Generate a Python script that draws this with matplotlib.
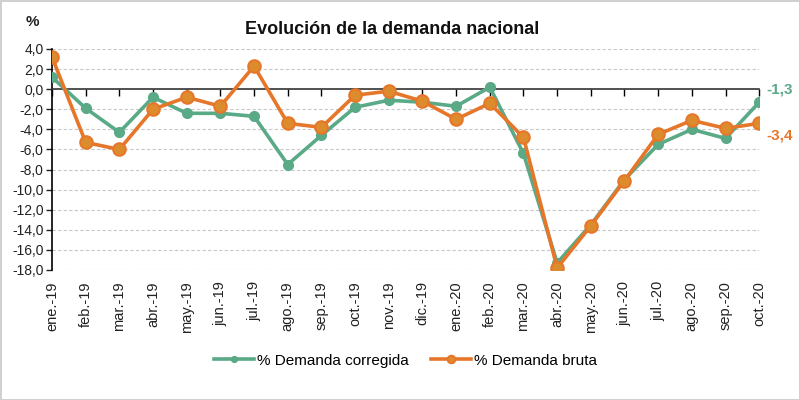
import numpy as np
import matplotlib
matplotlib.use('Agg')
import matplotlib.pyplot as plt
from matplotlib.ticker import FuncFormatter

plt.rcParams['font.family'] = ['Liberation Sans', 'DejaVu Sans']

months = ['ene.-19', 'feb.-19', 'mar.-19', 'abr.-19', 'may.-19', 'jun.-19',
          'jul.-19', 'ago.-19', 'sep.-19', 'oct.-19', 'nov.-19', 'dic.-19',
          'ene.-20', 'feb.-20', 'mar.-20', 'abr.-20', 'may.-20', 'jun.-20',
          'jul.-20', 'ago.-20', 'sep.-20', 'oct.-20']
corregida = [1.2, -1.9, -4.3, -0.8, -2.4, -2.4, -2.7, -7.5, -4.6, -1.8, -1.1,
             -1.3, -1.7, 0.2, -6.4, -17.3, -13.5, -9.0, -5.5, -4.0, -4.9, -1.3]
bruta = [3.2, -5.3, -6.0, -2.0, -0.8, -1.7, 2.3, -3.4, -3.8, -0.6, -0.2,
         -1.2, -3.0, -1.4, -4.8, -17.8, -13.6, -9.1, -4.5, -3.1, -3.9, -3.4]
yticks = np.arange(-18, 5, 2)

green = '#5aa987'
orange = '#e6772a'
x = np.arange(len(months))

fig = plt.figure(figsize=(8, 4), dpi=100)
fig.patch.set_edgecolor('#d0d0d0')
fig.patch.set_linewidth(2)
ax = fig.add_axes([0.065, 0.325, 0.884, 0.5525])

for yv in yticks:
    if yv != 0:
        ax.axhline(yv, color='#c8c8c8', lw=0.8, ls=(0, (3, 2)), zorder=0)

ax.plot(x, corregida, color=green, lw=2.6, marker='o', ms=7,
        mfc=green, mec=green, label='% Demanda corregida', zorder=3)
ax.plot(x, bruta, color=orange, lw=2.6, marker='o', ms=9,
        mfc='#dc8c2c', mec=orange, mew=1.5, label='% Demanda bruta', zorder=4)

ax.set_xlim(0, len(months) - 1)
ax.set_ylim(-18, 4)
ax.set_yticks(yticks)
ax.yaxis.set_major_formatter(FuncFormatter(lambda v, p: f'{v:.1f}'.replace('.', ',')))
ax.tick_params(axis='y', length=4, width=1, labelsize=10, pad=2, colors='#222222')

ax.spines['top'].set_visible(False)
ax.spines['right'].set_visible(False)
ax.spines['left'].set_linewidth(1.2)
ax.spines['bottom'].set_position(('data', 0))
ax.spines['bottom'].set_linewidth(1.2)
ax.spines['bottom'].set_color('#333333')
ax.set_xticks(x)
ax.tick_params(axis='x', length=5, width=1, direction='out', labelbottom=False)

sec = ax.secondary_xaxis(0.0)
sec.set_xticks(x)
sec.set_xticklabels(months, rotation=90, fontsize=10.5, color='#222222')
sec.tick_params(length=0, pad=8)
sec.spines['bottom'].set_visible(False)

ax.text(len(months) - 1 + 0.2, corregida[-1] + 1.3, '-1,3', color=green,
        fontsize=11, fontweight='bold', va='center', ha='left', clip_on=False)
ax.text(len(months) - 1 + 0.2, bruta[-1] - 1.2, '-3,4', color=orange,
        fontsize=11, fontweight='bold', va='center', ha='left', clip_on=False)

fig.text(0.49, 0.925, 'Evolución de la demanda nacional', ha='center', va='center',
         fontsize=13, fontweight='bold', color='#111111')
fig.text(0.04, 0.945, '%', ha='center', va='center', fontsize=11,
         fontweight='bold', color='#222222')

ax.legend(loc='center', bbox_to_anchor=(0.5, -0.41), ncol=2, frameon=False,
          fontsize=11, handlelength=2.6, columnspacing=1.5, handletextpad=0.2,
          markerscale=0.6)

fig.savefig('out.png', dpi=100, edgecolor=fig.get_edgecolor())
